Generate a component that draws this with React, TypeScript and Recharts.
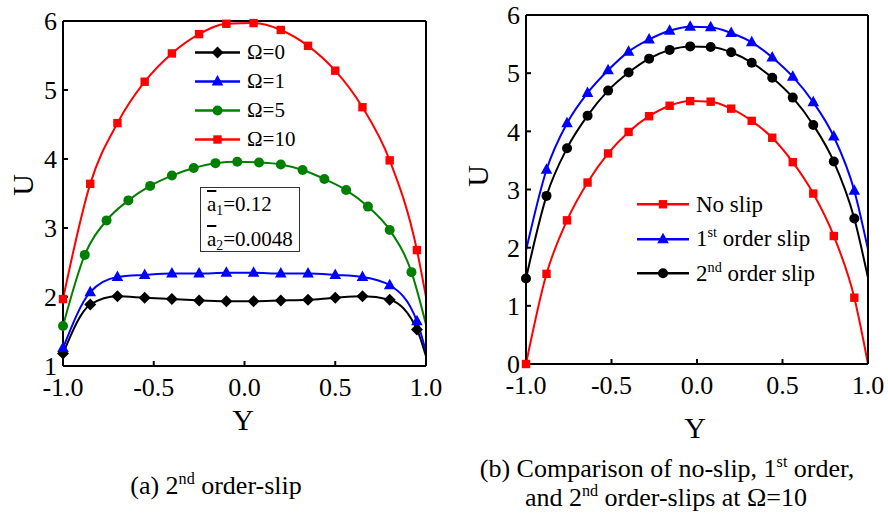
import React from 'react';
import { LineChart, Line, XAxis, YAxis, Legend } from 'recharts';

// marker positions across the channel
const yStep15 = [-1, -0.85, -0.7, -0.55, -0.4, -0.25, -0.1, 0.05, 0.2, 0.35, 0.5, 0.65, 0.8, 0.95];
const yStep12 = [-1, -0.88, -0.76, -0.64, -0.52, -0.4, -0.28, -0.16, -0.04, 0.08, 0.2, 0.32, 0.44, 0.56, 0.68, 0.8, 0.92];

// (a) 2nd order slip, U for each Ω
const omega0 = [1.18, 1.89, 2.01, 1.99, 1.97, 1.95, 1.94, 1.94, 1.95, 1.96, 1.99, 2.01, 1.96, 1.53];
const omega1 = [1.26, 2.07, 2.29, 2.32, 2.34, 2.34, 2.35, 2.35, 2.34, 2.34, 2.32, 2.29, 2.17, 1.65];
const omega5 = [1.58, 2.61, 3.11, 3.4, 3.61, 3.76, 3.87, 3.94, 3.96, 3.95, 3.92, 3.84, 3.71, 3.55, 3.31, 2.97, 2.36];
const omega10 = [1.97, 3.64, 4.52, 5.12, 5.53, 5.81, 5.96, 5.97, 5.87, 5.64, 5.28, 4.75, 3.98, 2.68];
// U where each curve meets the wall Y = 1 (no marker there)
const wallA = [1.14, 1.2, 1.6, 2.0];
const namesA = ['Ω=0', 'Ω=1', 'Ω=5', 'Ω=10'];

// (b) slip models at Ω = 10
const noSlip = [0, 1.55, 2.47, 3.12, 3.62, 3.99, 4.26, 4.44, 4.52, 4.51, 4.39, 4.18, 3.89, 3.47, 2.93, 2.2, 1.14];
const firstOrder = [3.34, 4.14, 4.66, 5.05, 5.37, 5.58, 5.73, 5.8, 5.79, 5.69, 5.53, 5.27, 4.94, 4.5, 3.91, 2.98]; // from Y = -0.88
const secondOrder = [1.47, 2.89, 3.71, 4.27, 4.7, 5.01, 5.25, 5.4, 5.46, 5.45, 5.36, 5.18, 4.92, 4.58, 4.11, 3.48, 2.5];
const firstOrderLeftWall = 1.95;
const wallB = [0, 1.97, 1.48];
const namesB = ['No slip', '1st order slip', '2nd order slip'];

const xTicks = [-1, -0.5, 0, 0.5, 1];
const uTicksA = [1, 2, 3, 4, 5, 6];
const uTicksB = [0, 1, 2, 3, 4, 5, 6];

const FONT = '"Liberation Serif", "Times New Roman", serif';

type Pt = { y: number; u: number; bare?: boolean };
type Shape = 'diamond' | 'triangle' | 'circle' | 'square';
type Series = { name: string; color: string; shape: Shape; data: Pt[] };

const toPoints = (ys: number[], us: number[], ends: [number, number][]): Pt[] =>
  [...ys.map((y, i) => ({ y, u: us[i] })), ...ends.map(([y, u]) => ({ y, u, bare: true }))].sort(
    (a, b) => a.y - b.y,
  );

const seriesA: Series[] = [
  { name: namesA[0], color: '#000000', shape: 'diamond', data: toPoints(yStep15, omega0, [[1, wallA[0]]]) },
  { name: namesA[1], color: '#0000ff', shape: 'triangle', data: toPoints(yStep15, omega1, [[1, wallA[1]]]) },
  { name: namesA[2], color: '#008000', shape: 'circle', data: toPoints(yStep12, omega5, [[1, wallA[2]]]) },
  { name: namesA[3], color: '#ff0000', shape: 'square', data: toPoints(yStep15, omega10, [[1, wallA[3]]]) },
];

const seriesB: Series[] = [
  { name: namesB[0], color: '#ff0000', shape: 'square', data: toPoints(yStep12, noSlip, [[1, wallB[0]]]) },
  {
    name: namesB[1],
    color: '#0000ff',
    shape: 'triangle',
    data: toPoints(yStep12.slice(1), firstOrder, [[-1, firstOrderLeftWall], [1, wallB[1]]]),
  },
  { name: namesB[2], color: '#000000', shape: 'circle', data: toPoints(yStep12, secondOrder, [[1, wallB[2]]]) },
];

function Marker({ shape, cx, cy, color }: { shape: Shape; cx: number; cy: number; color: string }) {
  switch (shape) {
    case 'diamond':
      return <polygon points={`${cx},${cy - 6} ${cx + 6},${cy} ${cx},${cy + 6} ${cx - 6},${cy}`} fill={color} />;
    case 'triangle':
      return <polygon points={`${cx},${cy - 6.5} ${cx + 5.8},${cy + 4} ${cx - 5.8},${cy + 4}`} fill={color} />;
    case 'circle':
      return <circle cx={cx} cy={cy} r={5} fill={color} />;
    default:
      return <rect x={cx - 4.2} y={cy - 4.2} width={8.4} height={8.4} fill={color} />;
  }
}

const dotFor = (s: Series) => (p: any) => {
  const key = `${s.name}-${p.index}`;
  if (!p.payload || p.payload.bare || p.cx == null) return <g key={key} />;
  return (
    <g key={key}>
      <Marker shape={s.shape} cx={p.cx} cy={p.cy} color={s.color} />
    </g>
  );
};

// "1st" / "2nd" with raised suffix
function Ordinal({ text }: { text: string }) {
  const parts = text.split(/(\d)(st|nd|rd|th)\b/);
  const out: React.ReactNode[] = [];
  for (let i = 0; i < parts.length; i++) {
    if (i % 3 === 2) {
      out.push(
        <span key={i} style={{ fontSize: '0.62em', position: 'relative', top: '-0.62em' }}>
          {parts[i]}
        </span>,
      );
    } else if (parts[i]) {
      out.push(<span key={i}>{parts[i]}</span>);
    }
  }
  return <>{out}</>;
}

function LegendRows({ series, rowH, lineW, gap, fontSize }: { series: Series[]; rowH: number; lineW: number; gap: number; fontSize: number }) {
  return (
    <div style={{ fontFamily: FONT, color: '#000' }}>
      {series.map((s) => (
        <div key={s.name} style={{ display: 'flex', alignItems: 'center', height: rowH }}>
          <svg width={lineW} height={rowH} style={{ display: 'block' }}>
            <line x1={0} x2={lineW} y1={rowH / 2} y2={rowH / 2} stroke={s.color} strokeWidth={2.6} />
            <Marker shape={s.shape} cx={lineW / 2} cy={rowH / 2} color={s.color} />
          </svg>
          <span style={{ marginLeft: gap, fontSize, lineHeight: 1, whiteSpace: 'nowrap' }}>
            <Ordinal text={s.name} />
          </span>
        </div>
      ))}
    </div>
  );
}

const axisStroke = { stroke: '#000', strokeWidth: 2 };
const tickText = { fill: '#000', fontSize: 26, fontFamily: FONT };

type PanelProps = {
  series: Series[];
  width: number;
  height: number;
  margin: { top: number; right: number; bottom: number; left: number };
  uTicks: number[];
  legend: React.ReactNode;
};

function Panel({ series, width, height, margin, uTicks, legend }: PanelProps) {
  const uDomain: [number, number] = [uTicks[0], uTicks[uTicks.length - 1]];
  return (
    <LineChart width={width} height={height} margin={margin}>
      <XAxis
        xAxisId="b"
        type="number"
        dataKey="y"
        domain={[-1, 1]}
        ticks={xTicks}
        interval={0}
        tickFormatter={(v: number) => v.toFixed(1)}
        tickSize={-5}
        tickMargin={17}
        height={30}
        axisLine={axisStroke}
        tickLine={axisStroke}
        tick={tickText}
      />
      <XAxis
        xAxisId="t"
        orientation="top"
        type="number"
        dataKey="y"
        domain={[-1, 1]}
        ticks={xTicks}
        interval={0}
        tick={false}
        tickSize={-5}
        height={1}
        axisLine={axisStroke}
        tickLine={axisStroke}
      />
      <YAxis
        yAxisId="l"
        type="number"
        domain={uDomain}
        ticks={uTicks}
        interval={0}
        tickSize={-5}
        tickMargin={11}
        width={40}
        axisLine={axisStroke}
        tickLine={axisStroke}
        tick={tickText}
      />
      <YAxis
        yAxisId="r"
        orientation="right"
        type="number"
        domain={uDomain}
        ticks={uTicks}
        interval={0}
        tick={false}
        tickSize={-5}
        width={1}
        axisLine={axisStroke}
        tickLine={axisStroke}
      />
      {series.map((s) => (
        <Line
          key={s.name}
          xAxisId="b"
          yAxisId="l"
          name={s.name}
          data={s.data}
          dataKey="u"
          type="monotone"
          stroke={s.color}
          strokeWidth={2}
          dot={dotFor(s)}
          activeDot={false}
          isAnimationActive={false}
        />
      ))}
      {legend}
    </LineChart>
  );
}

const centered = (cx: number, cy: number, fontSize: number, rotate = 0): React.CSSProperties => ({
  position: 'absolute',
  left: cx,
  top: cy,
  transform: `translate(-50%, -50%)${rotate ? ` rotate(${rotate}deg)` : ''}`,
  fontSize,
  lineHeight: 1,
  whiteSpace: 'nowrap',
  fontFamily: FONT,
  color: '#000',
});

export default function App() {
  return (
    <div style={{ position: 'absolute', left: 0, top: 0, width: 888, height: 515, background: '#fff', overflow: 'hidden' }}>
      <div style={{ position: 'absolute', left: 0, top: 0 }}>
        <Panel
          series={seriesA}
          width={450}
          height={450}
          margin={{ top: 20, right: 23, bottom: 54, left: 23 }}
          uTicks={uTicksA}
          legend={
            <Legend
              layout="vertical"
              align="center"
              verticalAlign="middle"
              wrapperStyle={{ left: 195, top: 38, width: 'auto' }}
              content={() => <LegendRows series={seriesA} rowH={29} lineW={45} gap={7} fontSize={21} />}
            />
          }
        />
        <div
          style={{
            position: 'absolute',
            left: 200,
            top: 187,
            width: 100,
            height: 65,
            border: '1px solid #333',
            fontFamily: FONT,
            fontSize: 21,
            lineHeight: '32px',
            paddingLeft: 6,
            boxSizing: 'border-box',
          }}
        >
          <div>
            <span style={{ textDecoration: 'overline' }}>a</span>
            <sub style={{ fontSize: '0.65em', verticalAlign: 'baseline', position: 'relative', top: '0.3em' }}>1</sub>=0.12
          </div>
          <div>
            <span style={{ textDecoration: 'overline' }}>a</span>
            <sub style={{ fontSize: '0.65em', verticalAlign: 'baseline', position: 'relative', top: '0.3em' }}>2</sub>=0.0048
          </div>
        </div>
      </div>

      <div style={{ position: 'absolute', left: 440, top: 0 }}>
        <Panel
          series={seriesB}
          width={448}
          height={450}
          margin={{ top: 14, right: 19, bottom: 56, left: 46 }}
          uTicks={uTicksB}
          legend={
            <Legend
              layout="vertical"
              align="center"
              verticalAlign="middle"
              wrapperStyle={{ left: 197, top: 187, width: 'auto' }}
              content={() => <LegendRows series={seriesB} rowH={34.5} lineW={52} gap={7} fontSize={23} />}
            />
          }
        />
      </div>

      <div style={centered(23, 185, 30, -90)}>U</div>
      <div style={centered(478, 176, 30, -90)}>U</div>
      <div style={centered(243, 420, 30)}>Y</div>
      <div style={centered(695, 428, 30)}>Y</div>
      <div style={centered(216, 486, 26)}>
        (a) <Ordinal text="2nd" /> order-slip
      </div>
      <div style={centered(667, 469, 26)}>
        (b) Comparison of no-slip, <Ordinal text="1st" /> order,
      </div>
      <div style={centered(666, 498, 26)}>
        and <Ordinal text="2nd" /> order-slips at Ω=10
      </div>
    </div>
  );
}
